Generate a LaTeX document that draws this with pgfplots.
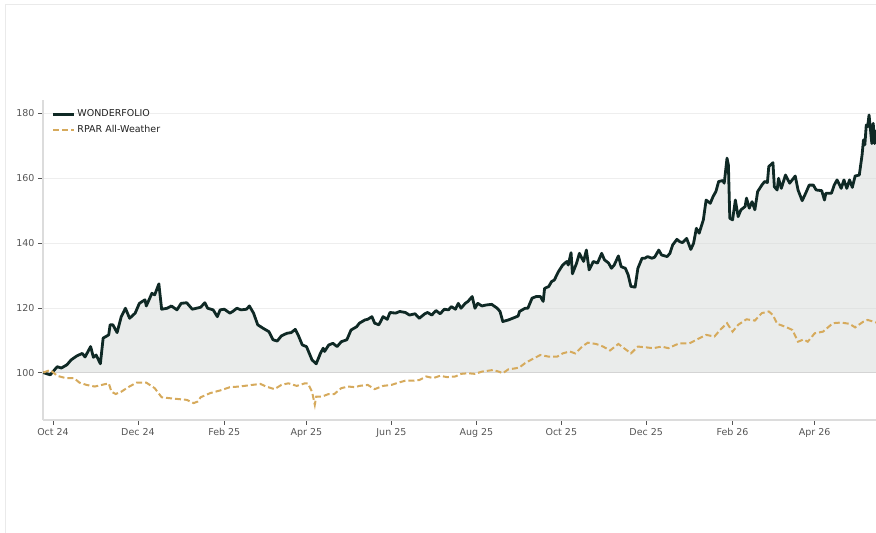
\documentclass[border=0pt]{standalone}
\usepackage{fontspec}
\setmainfont{DejaVu Sans}
\usepackage{pgfplots}
\usepackage{pgfplotstable}
\pgfplotsset{compat=1.18}
\definecolor{wf}{HTML}{0F2925}
\definecolor{rp}{HTML}{D6AA5C}
\definecolor{fillg}{HTML}{D5DAD8}
\definecolor{gridc}{HTML}{EEEEEE}
\definecolor{spine}{HTML}{DCDCDC}
\definecolor{tickl}{HTML}{555555}
\definecolor{frame}{HTML}{EAEAEA}

\pgfplotstableread{
day val
-7 100.1
-2 99.4
3 101.9
6 101.5
10 102.5
13 104
17 105.2
21 106
23 104.9
27 108.1
29 104.8
31 105.5
34 102.8
36 110.7
40 111.7
41 114.8
43 114.8
46 112.4
49 117.3
52 119.9
55 116.8
59 118.4
62 121.4
66 122.5
67 120.6
71 124.5
73 124
76 127.4
78 119.6
82 119.9
85 120.6
89 119.4
92 121.4
96 121.6
100 119.6
106 120.2
109 121.6
111 119.9
115 119.4
118 117.3
120 119.4
123 119.6
127 118.4
129 118.9
132 119.9
135 119.4
139 119.6
141 120.6
144 118.4
147 114.8
151 113.7
155 112.7
158 110.2
161 109.8
164 111.4
168 112.2
171 112.4
174 113.4
176 111.7
179 108.6
182 108.1
186 104
189 102.8
192 106
194 107.6
195 106.6
198 108.6
201 109.1
204 108.1
207 109.6
211 110.2
214 113.2
218 114.2
220 115.3
224 116.3
226 116.5
229 117.3
231 115.3
234 114.8
237 117.3
240 116.5
242 118.6
246 118.4
249 118.9
253 118.6
256 117.8
260 118.2
263 116.8
267 118.2
269 118.6
272 117.8
275 119.2
278 118.2
281 119.6
284 119.4
286 120.4
289 119.6
291 121.4
293 119.9
296 121.4
298 122
301 123.5
303 119.9
305 121.4
308 120.6
311 120.9
315 121.1
319 119.9
321 118.9
323 115.8
327 116.3
330 116.8
334 117.5
335 118.9
339 119.9
341 119.9
344 123
347 123.5
350 123.5
352 122
353 126
356 126.6
358 128.1
360 128.6
363 131.2
366 133.2
369 134.3
370 133.2
372 137
373 130.5
376 133.8
378 136.8
381 134.3
383 137.8
385 131.7
388 134.3
391 133.8
394 136.8
396 134.8
399 133.8
401 132.2
403 133.2
406 136
408 132.7
411 132.2
413 130.2
415 126.6
418 126.4
420 132.2
423 135.3
425 135.3
427 135.8
430 135.3
432 135.6
435 137.8
437 136.3
441 135.8
443 136.8
445 139.4
448 141.1
450 140.4
452 140.1
455 141.4
458 138.0
460 139.9
462 144.5
464 143
467 147.1
469 153.2
472 152.2
474 154.3
476 155.8
478 158.9
481 159.2
482 158.4
484 166.1
485 164
486 147.6
488 147.1
490 153.2
492 148.1
494 150.2
497 151.2
498 153.8
500 150.7
502 152.7
504 150.2
506 155.8
509 157.8
511 158.9
513 158.6
514 163.5
517 164.7
518 157.3
520 156.3
521 159.9
523 156.8
526 160.9
529 158.4
533 160.6
535 156.3
538 153
541 155.8
543 157.8
546 157.8
548 156.3
552 156.1
554 153.2
555 155.3
559 155.3
561 157.8
563 159.4
564 158.6
566 156.8
568 159.4
570 156.8
572 159.4
574 157.1
576 160.6
579 160.9
581 167.1
582 171.7
583 170.2
584 176.3
585 175.8
586 179.4
588 170.6
589 176.8
590 170.6
591 174.8
}\wfdata

\pgfplotstableread{
day val
-7 100.1
-2 100.9
3 99.1
9 98.4
15 98.4
19 97
24 96.3
30 95.8
35 96.3
40 96.8
42 94.2
45 93.5
49 94.2
54 95.6
60 97
67 97
73 95.3
78 92.5
84 92.2
91 91.9
96 91.7
101 90.7
104 91.2
106 92.5
113 93.8
120 94.6
127 95.6
134 95.8
141 96.2
149 96.6
153 95.8
159 95
164 96.3
169 96.8
175 96
181 96.8
183 96.8
186 94.2
188 90.2
189 92.7
193 92.7
198 93.5
202 93.5
207 95.3
212 95.8
217 95.6
220 96
226 96.3
231 95
237 96
243 96.3
248 97
253 97.6
259 97.6
263 97.8
268 98.9
273 98.4
278 99.1
283 98.7
289 98.9
293 99.7
298 99.9
303 99.7
308 100.4
313 100.7
316 100.9
320 100.4
323 99.9
327 101.1
332 101.4
335 101.7
339 103
344 104.2
350 105.5
356 105
362 105
366 106
371 106.6
375 106
380 108.1
384 109.3
390 108.9
395 108.1
400 106.9
406 108.9
411 107.3
415 106
420 108.1
425 107.9
431 107.6
437 108.1
442 107.6
447 108.6
450 109.1
457 109.1
463 110.4
469 111.7
475 111.2
479 113.2
484 115.3
488 112.7
492 114.8
498 116.5
504 116.1
509 118.4
514 118.9
517 117.8
520 115.1
526 114.2
531 113.2
535 109.6
539 110.3
542 109.6
547 112.2
553 112.7
560 115.3
566 115.5
572 115.1
576 114
582 115.8
585 116.3
589 115.8
591 115.5
}\rpdata

\begin{document}
\begin{tikzpicture}
\path[use as bounding box] (0pt,0pt) rectangle (876pt,533pt);
\draw[color=frame, line width=1.5pt] (5.5pt,0pt) -- (5.5pt,528.5pt) -- (876pt,528.5pt);
\begin{axis}[
  at={(43pt,113pt)}, anchor=south west,
  scale only axis, width=833pt, height=320pt,
  xmin=-7.2, xmax=591, ymin=85.5, ymax=184,
  axis x line*=bottom, axis y line*=left,
  axis line style={spine, line width=1.3pt},
  ytick={100,120,140,160,180},
  xtick={0,61,123,182,243,304,365,426,488,547},
  xticklabels={Oct 24,Dec 24,Feb 25,Apr 25,Jun 25,Aug 25,Oct 25,Dec 25,Feb 26,Apr 26},
  tick align=outside, major tick length=5pt,
  tick style={tickl, line width=0.8pt},
  ymajorgrids, grid style={gridc, line width=0.8pt},
  tick label style={font=\fontsize{9.5}{11}\selectfont, text=tickl},
  /pgf/number format/assume math mode=true,
  legend style={at={(0.009,0.979)}, anchor=north west, draw=none, fill=none,
    font=\fontsize{9.5}{11}\selectfont, text=black!88, row sep=3pt,
    inner sep=1pt},
  legend cell align=left,
  legend image code/.code={\draw[#1] (0pt,0pt) -- (21pt,0pt);},
]
\addplot[fill=fillg, fill opacity=0.5, draw=none, forget plot] table[x=day,y=val] {\wfdata} -- (axis cs:591,100) -- (axis cs:-7,100) -- cycle;
\draw[color=black!17, line width=1pt] (axis cs:-7.2,100) -- (axis cs:591,100);
\addplot[wf, line width=2.8pt, line join=round] table[x=day,y=val] {\wfdata};
\addlegendentry{WONDERFOLIO}
\addplot[rp, line width=2pt, dash pattern=on 6pt off 3pt] table[x=day,y=val] {\rpdata};
\addlegendentry{RPAR All-Weather}
\end{axis}
\end{tikzpicture}
\end{document}
